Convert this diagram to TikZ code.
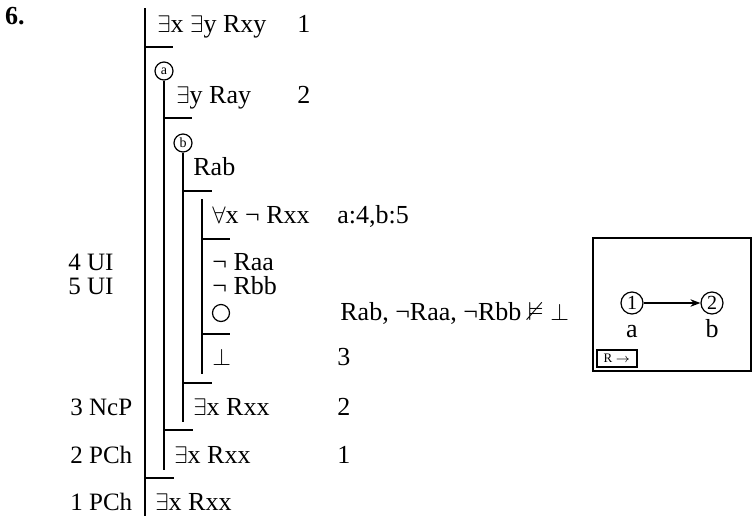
\documentclass[tikz,border=0pt]{standalone}
\usepackage{amssymb}
\usepackage{fontspec}
\setmainfont{Liberation Serif}
\usetikzlibrary{arrows.meta}
\tikzset{
  fml/.style={anchor=base west,inner sep=0pt,font=\fontsize{13}{15}\selectfont},
  rule/.style={anchor=base west,inner sep=0pt,font=\fontsize{12.5}{14}\selectfont},
  proofline/.style={line width=1pt},
  varcirc/.style={circle,draw,line width=0.6pt,minimum size=9pt,inner sep=0pt,font=\fontsize{7}{8}\selectfont},
  world/.style={circle,draw,line width=0.6pt,minimum size=11pt,inner sep=0pt,font=\fontsize{10}{11}\selectfont}
}
\begin{document}
\begin{tikzpicture}[x=0.5pt,y=-0.5pt]
\useasboundingbox (0,0) rectangle (752,516);
\node[anchor=center,font=\fontsize{13}{14}\selectfont\bfseries] (num) at (15,16) {6.};

% formulas
\node[fml] (f1) at (157,32) {$\exists$x $\exists$y Rxy};
\node[fml] (f2) at (176,103) {$\exists$y Ray};
\node[fml] (f3) at (193,175) {Rab};
\node[fml] (f4) at (212,223) {$\forall$x ¬ Rxx};
\node[fml] (f5) at (212,270) {¬ Raa};
\node[fml] (f6) at (212,294) {¬ Rbb};
\node[circle,draw,line width=0.6pt,minimum size=8.5pt,inner sep=0pt] (f7) at (221,313) {};
\node[fml] (f8) at (212,365) {$\bot$};
\node[fml] (f9) at (193,415) {$\exists$x Rxx};
\node[fml] (f10) at (174,463) {$\exists$x Rxx};
\node[fml] (f11) at (155,510) {$\exists$x Rxx};

% notes on the right
\node[fml] (n1) at (297,32) {1};
\node[fml] (n2) at (297,103) {2};
\node[fml] (n4) at (337,223) {a:4,b:5};
\node[fml] (n7) at (340,320) {Rab, ¬Raa, ¬Rbb $\nvDash$ $\bot$};
\node[fml] (n8) at (337,365) {3};
\node[fml] (n9) at (337,415) {2};
\node[fml] (n10) at (337,463) {1};

% rules on the left
\node[rule] (r5) at (68,270) {4 UI};
\node[rule] (r6) at (68,294) {5 UI};
\node[rule] (r9) at (70,415) {3 NcP};
\node[rule] (r10) at (70,463) {2 PCh};
\node[rule] (r11) at (70,510) {1 PCh};

% new names
\node[varcirc] (ca) at (164,71) {a};
\node[varcirc] (cb) at (183,143) {b};

% proof lines
\draw[proofline] (145,8) -- (145,516);
\draw[proofline] (ca.south) -- (164,470);
\draw[proofline] (cb.south) -- (183,422);
\draw[proofline] (202,199) -- (202,374);

% bars
\draw[proofline] (145,47) -- (173,47);
\draw[proofline] (164,118) -- (192,118);
\draw[proofline] (183,191) -- (212,191);
\draw[proofline] (202,239) -- (230,239);
\draw[proofline] (202,334) -- (230,334);
\draw[proofline] (183,383) -- (212,383);
\draw[proofline] (164,430) -- (193,430);
\draw[proofline] (145,478) -- (174,478);

% countermodel
\node[draw,line width=1pt,minimum width=79pt,minimum height=66.5pt,inner sep=0pt] (model) at (672,304.5) {};
\node[world] (w1) at (632,303) {1};
\node[world] (w2) at (712,303) {2};
\node[fml,anchor=base] (la) at (632,337) {a};
\node[fml,anchor=base] (lb) at (712,337) {b};
\draw[-{Stealth[length=5pt]},line width=0.6pt] (w1) -- (w2);
\node[draw,line width=0.6pt,minimum width=20pt,minimum height=8.5pt,inner sep=0pt,font=\fontsize{6.5}{7}\selectfont] (key) at (617,358.5) {R $\rightarrow$};
\end{tikzpicture}
\end{document}
